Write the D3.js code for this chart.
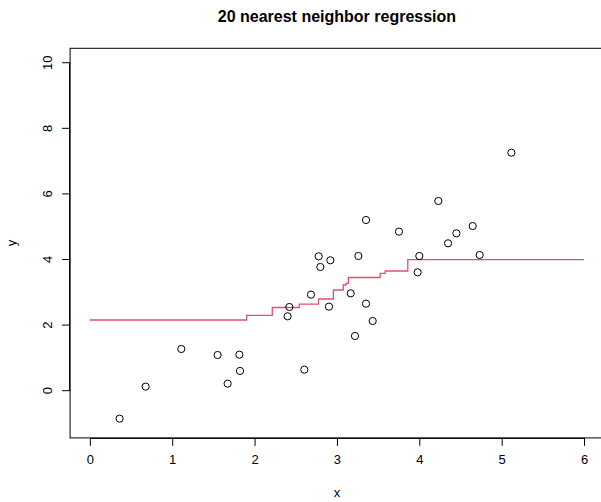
<!DOCTYPE html>
<html>
<head>
<meta charset="utf-8">
<script src="https://cdn.jsdelivr.net/npm/d3@7"></script>
<style>
  html, body { margin: 0; padding: 0; background: #fff; }
  svg { display: block; font-family: "Liberation Sans", Arial, Helvetica, sans-serif; }
</style>
</head>
<body>
<script>
// Observed points
const xs = [0.361, 0.677, 1.110, 1.551, 1.815, 1.823, 1.673,
            3.353, 3.753, 2.778, 2.920, 3.260, 4.000, 2.798, 3.980, 2.685,
            3.167, 2.422, 2.903, 3.353, 2.401, 3.434, 3.219, 2.604,
            5.118, 4.231, 4.648, 4.450, 4.349, 4.733];
const ys = [-0.853, 0.123, 1.271, 1.088, 1.098, 0.601, 0.214,
            5.204, 4.849, 4.097, 3.975, 4.107, 4.107, 3.771, 3.609, 2.928,
            2.969, 2.552, 2.562, 2.653, 2.267, 2.125, 1.668, 0.641,
            7.257, 5.784, 5.021, 4.798, 4.493, 4.137];

// 20-NN regression fit: step breakpoints (x) and levels (y)
const stepX = [0, 1.904, 2.215, 2.542, 2.776, 2.956, 3.077, 3.110, 3.138, 3.525, 3.586, 3.860, 6];
const stepY = [2.155, 2.299, 2.537, 2.637, 2.796, 3.070, 3.223, 3.274, 3.451, 3.579, 3.649, 3.997];

const xTicks = [0, 1, 2, 3, 4, 5, 6];
const yTicks = [0, 2, 4, 6, 8, 10];
const title = "20 nearest neighbor regression";

const W = 601, H = 502;
const L = 70.1, R = 603.8, T = 48.3, B = 437.9;

const svg = d3.select("body").append("svg").attr("width", W).attr("height", H);

const x = d3.scaleLinear().domain([-0.24, 6.24]).range([L, R]);
const y = d3.scaleLinear().domain([-1.44, 10.44]).range([B, T]);

// box
svg.append("rect").attr("x", L).attr("y", T).attr("width", R - L).attr("height", B - T)
  .attr("fill", "none").attr("stroke", "#000").attr("stroke-width", 1);

// x axis
const xAxis = d3.axisBottom(x).tickValues(xTicks).tickSize(8).tickPadding(9).tickFormat(d3.format("d"));
const gx = svg.append("g").attr("transform", `translate(0,${B})`).call(xAxis);
gx.select(".domain").attr("d", `M${x(0)},0.5H${x(6)}`).attr("stroke", "#000");
gx.selectAll("text").attr("font-size", 13).attr("fill", "#000")
  .attr("font-family", "'Liberation Sans', Arial, sans-serif");
gx.selectAll("line").attr("stroke", "#000");

// y axis
const yAxis = d3.axisLeft(y).tickValues(yTicks).tickSize(8).tickFormat(d3.format("d"));
const gy = svg.append("g").attr("transform", `translate(${L},0)`).call(yAxis);
gy.select(".domain").attr("d", `M-0.5,${y(0)}V${y(10)}`).attr("stroke", "#000");
gy.selectAll("line").attr("stroke", "#000");
gy.selectAll("text")
  .attr("font-size", 13).attr("fill", "#000")
  .attr("font-family", "'Liberation Sans', Arial, sans-serif")
  .attr("x", null).attr("dy", null)
  .attr("text-anchor", "middle")
  .attr("transform", d => `translate(-23,${y(d)}) rotate(-90)`)
  .attr("y", 0)
  .attr("dy", "0.36em");
gy.selectAll(".tick").attr("transform", null);
gy.selectAll(".tick line").attr("transform", d => `translate(0,${y(d)})`);

// title and axis labels
svg.append("text").attr("x", (L + R) / 2).attr("y", 22).attr("text-anchor", "middle")
  .attr("font-size", 16).attr("font-weight", "bold").text(title);
svg.append("text").attr("x", (L + R) / 2).attr("y", 497).attr("text-anchor", "middle")
  .attr("font-size", 13).text("x");
svg.append("text").attr("transform", `translate(16,${(T + B) / 2}) rotate(-90)`)
  .attr("text-anchor", "middle").attr("font-size", 13).text("y");

// step line
const stepData = stepY.map((v, i) => ({ x: stepX[i], y: v }));
stepData.push({ x: stepX[stepX.length - 1], y: stepY[stepY.length - 1] });
const line = d3.line().x(d => x(d.x)).y(d => y(d.y)).curve(d3.curveStepAfter);
svg.append("path").datum(stepData).attr("d", line)
  .attr("fill", "none").attr("stroke", "#DF536B").attr("stroke-width", 1.3);

// points
svg.append("g").selectAll("circle").data(xs.map((v, i) => [v, ys[i]])).join("circle")
  .attr("cx", d => x(d[0])).attr("cy", d => y(d[1])).attr("r", 3.6)
  .attr("fill", "none").attr("stroke", "#000").attr("stroke-width", 1);
</script>
</body>
</html>
